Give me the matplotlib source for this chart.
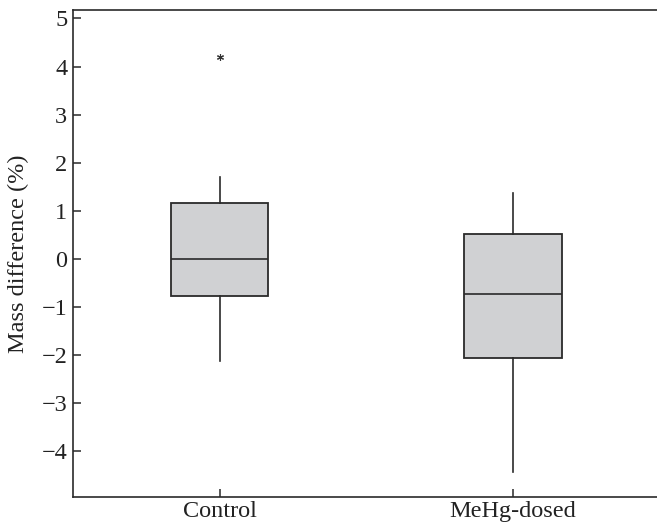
import matplotlib
matplotlib.use("Agg")
import matplotlib.pyplot as plt

categories = ["Control", "MeHg-dosed"]
q1 = [-0.77, -2.06]
median = [0.0, -0.72]
q3 = [1.16, 0.51]
whisker_low = [-2.13, -4.44]
whisker_high = [1.70, 1.37]
outliers = [[4.20], []]
yticks = [-4, -3, -2, -1, 0, 1, 2, 3, 4, 5]

plt.rcParams['font.family'] = ['Liberation Serif', 'DejaVu Serif']

fig = plt.figure(figsize=(6.57, 5.28), dpi=100)
ax = fig.add_axes([0.111, 0.0587, 0.893, 0.9218])

stats = []
for i, c in enumerate(categories):
    stats.append(dict(label=c, med=median[i], q1=q1[i], q3=q3[i],
                      whislo=whisker_low[i], whishi=whisker_high[i], fliers=outliers[i]))

edge = '#2a2a2a'
ax.bxp(stats, positions=[1, 2], widths=0.333, patch_artist=True, showcaps=False,
       boxprops=dict(facecolor='#d0d1d3', edgecolor=edge, linewidth=1.3),
       medianprops=dict(color=edge, linewidth=1.2),
       whiskerprops=dict(color=edge, linewidth=1.2),
       flierprops=dict(marker=(6, 2, 0), markersize=5, markeredgecolor='#333333',
                       markeredgewidth=0.8, linestyle='none'))

ax.set_xlim(0.5, 2.5)
ax.set_ylim(-4.95, 5.17)
ax.set_yticks(yticks)
ax.set_xticks([1, 2])
ax.set_xticklabels(categories)
ax.spines['right'].set_visible(False)
for s in ['left', 'bottom', 'top']:
    ax.spines[s].set_linewidth(1.2)
    ax.spines[s].set_color(edge)
ax.tick_params(axis='both', direction='in', length=6, width=1.1, color=edge,
               labelsize=17.5, labelcolor='#222222')
ax.tick_params(axis='y', pad=4)
ax.tick_params(axis='x', pad=3)
ax.set_ylabel("Mass difference (%)", fontsize=17.5, color='#222222', labelpad=9)

fig.savefig("out.png", dpi=100)
